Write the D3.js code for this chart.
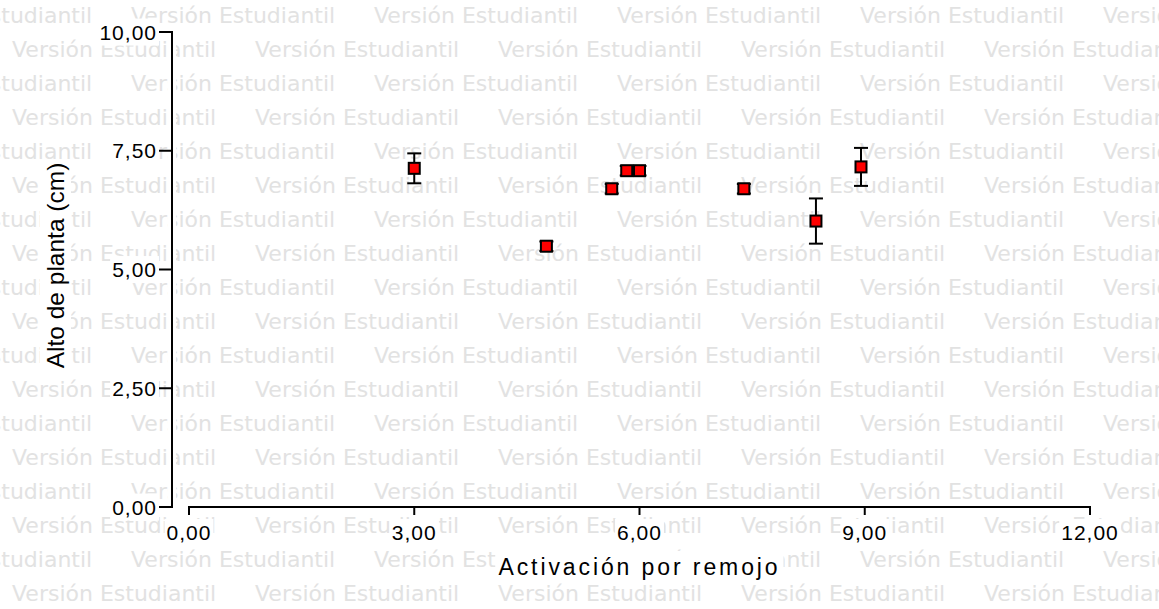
<!DOCTYPE html>
<html>
<head>
<meta charset="utf-8">
<script src="https://cdn.jsdelivr.net/npm/d3@7"></script>
<style>
  html, body { margin: 0; padding: 0; background: #ffffff; }
  svg { display: block; }
</style>
</head>
<body>
<svg id="chart" width="1159" height="609"></svg>
<script>
// ---- data ----
const xValues   = [3.00, 4.76, 5.63, 5.83, 6.00, 7.39, 8.35, 8.95];
const yValues   = [7.13, 5.49, 6.70, 7.08, 7.08, 6.70, 6.02, 7.16];
const yErrors   = [0.315, 0.10, 0.10, 0.10, 0.10, 0.10, 0.476, 0.40];
const xTicks    = [0, 3, 6, 9, 12];
const xTickLabels = ["0,00", "3,00", "6,00", "9,00", "12,00"];
const yTicks    = [0, 2.5, 5, 7.5, 10];
const yTickLabels = ["0,00", "2,50", "5,00", "7,50", "10,00"];
const xTitle = "Activación por remojo";
const yTitle = "Alto de planta (cm)";
const watermark = "Versión Estudiantil";

const W = 1159, H = 609;
const svg = d3.select("#chart");

// ---- scales ----
const x = d3.scaleLinear().domain([0, 12]).range([189, 1090]);
const y = d3.scaleLinear().domain([0, 10]).range([507, 32]);
const yAxisX = 172;

// ---- watermark ----
const wm = svg.append("g").attr("fill", "#e2e2e2")
  .style("font-family", "'DejaVu Sans', Verdana, sans-serif")
  .style("font-size", "22px");
const rowCount = 18, rowStep = 34, period = 243;
for (let i = 0; i < rowCount; i++) {
  const base = 22.5 + rowStep * i;
  const start = (i % 2 === 0) ? 131 : 12;
  for (let j = -1; j < 6; j++) {
    wm.append("text").attr("x", start + period * j).attr("y", base).text(watermark);
  }
}

// helper: white box behind a text element
function boxed(textSel, pad) {
  textSel.each(function () {
    const bb = this.getBBox();
    d3.select(this.parentNode).insert("rect", () => this)
      .attr("x", bb.x - pad).attr("y", bb.y - pad)
      .attr("width", bb.width + 2 * pad).attr("height", bb.height + 2 * pad)
      .attr("fill", "#ffffff");
  });
}

const labelFont = "'Liberation Sans', Arial, Helvetica, sans-serif";

// ---- Y axis ----
const gy = svg.append("g");
gy.append("rect").attr("x", yAxisX - 4).attr("y", y(10) - 1).attr("width", 8)
  .attr("height", y(0) - y(10) + 2).attr("fill", "#ffffff");
gy.append("line").attr("x1", yAxisX).attr("x2", yAxisX)
  .attr("y1", y(10)).attr("y2", y(0) + 1)
  .attr("stroke", "#000").attr("stroke-width", 2);
yTicks.forEach((t, i) => {
  gy.append("line").attr("x1", yAxisX - 13).attr("x2", yAxisX + 1)
    .attr("y1", y(t)).attr("y2", y(t))
    .attr("stroke", "#000").attr("stroke-width", 2);
  const tx = gy.append("g").append("text")
    .attr("x", yAxisX - 15).attr("y", y(t)).attr("dy", "0.36em")
    .attr("text-anchor", "end")
    .style("font-family", labelFont).style("font-size", "21px")
    .style("letter-spacing", "1px")
    .attr("fill", "#000").text(yTickLabels[i]);
  boxed(tx, 2);
});

// ---- X axis ----
const gx = svg.append("g");
gx.append("line").attr("x1", x(0) - 1).attr("x2", x(12) + 1)
  .attr("y1", y(0)).attr("y2", y(0))
  .attr("stroke", "#000").attr("stroke-width", 2);
xTicks.forEach((t, i) => {
  gx.append("line").attr("x1", x(t)).attr("x2", x(t))
    .attr("y1", y(0)).attr("y2", y(0) + 8)
    .attr("stroke", "#000").attr("stroke-width", 2);
  const tx = gx.append("g").append("text")
    .attr("x", x(t)).attr("y", 540)
    .attr("text-anchor", "middle")
    .style("font-family", labelFont).style("font-size", "21px")
    .style("letter-spacing", "1px")
    .attr("fill", "#000").text(xTickLabels[i]);
  boxed(tx, 2);
});

// ---- axis titles ----
const xt = svg.append("g").append("text")
  .attr("x", (x(0) + x(12)) / 2).attr("y", 575)
  .attr("text-anchor", "middle")
  .style("font-family", labelFont).style("font-size", "23px")
  .style("letter-spacing", "2.9px")
  .attr("fill", "#000").text(xTitle);
boxed(xt, 3);

const yt = svg.append("g").attr("transform", `translate(64, ${(y(0) + y(10)) / 2 - 4}) rotate(-90)`)
  .append("text")
  .attr("x", 0).attr("y", 0)
  .attr("text-anchor", "middle")
  .style("font-family", labelFont).style("font-size", "24.5px")
  .attr("fill", "#000").text(yTitle);
boxed(yt, 2);

// ---- error bars & markers ----
const pts = xValues.map((v, i) => ({ x: v, y: yValues[i], e: yErrors[i] }));
const gp = svg.append("g");
const eb = gp.selectAll("g.eb").data(pts).join("g").attr("class", "eb")
  .attr("stroke", "#000").attr("stroke-width", 2);
eb.append("line").attr("x1", d => x(d.x)).attr("x2", d => x(d.x))
  .attr("y1", d => y(d.y + d.e)).attr("y2", d => y(d.y - d.e));
eb.append("line").attr("x1", d => x(d.x) - 7).attr("x2", d => x(d.x) + 7)
  .attr("y1", d => y(d.y + d.e)).attr("y2", d => y(d.y + d.e));
eb.append("line").attr("x1", d => x(d.x) - 7).attr("x2", d => x(d.x) + 7)
  .attr("y1", d => y(d.y - d.e)).attr("y2", d => y(d.y - d.e));

gp.selectAll("rect.mk").data(pts).join("rect").attr("class", "mk")
  .attr("x", d => x(d.x) - 5.5).attr("y", d => y(d.y) - 5.5)
  .attr("width", 11).attr("height", 11)
  .attr("fill", "#ff0000").attr("stroke", "#000").attr("stroke-width", 2);
</script>
</body>
</html>
